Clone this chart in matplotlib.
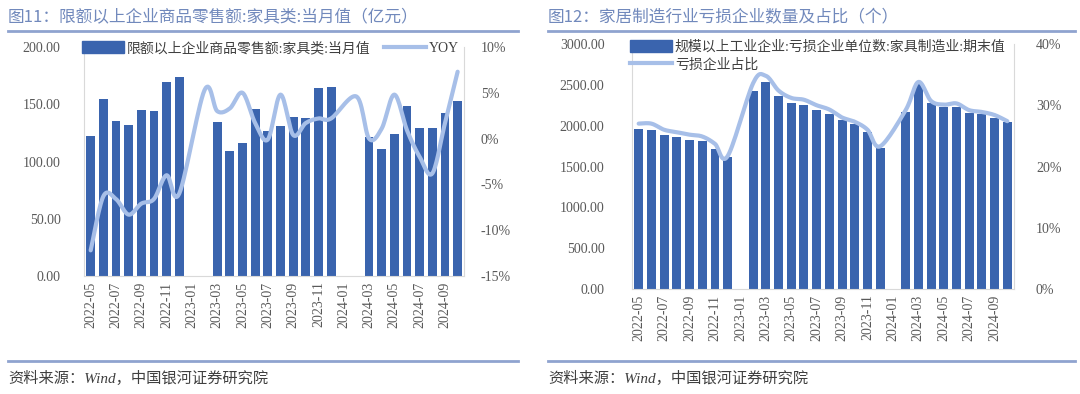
import numpy as np
import matplotlib
matplotlib.use('Agg')
import matplotlib.pyplot as plt
from matplotlib.lines import Line2D
from matplotlib.patches import Patch

nan = np.nan

MONTHS = ['2022-05', '2022-06', '2022-07', '2022-08', '2022-09', '2022-10',
          '2022-11', '2022-12', '2023-01', '2023-02', '2023-03', '2023-04',
          '2023-05', '2023-06', '2023-07', '2023-08', '2023-09', '2023-10',
          '2023-11', '2023-12', '2024-01', '2024-02', '2024-03', '2024-04',
          '2024-05', '2024-06', '2024-07', '2024-08', '2024-09', '2024-10']

# 图11: 限额以上企业商品零售额:家具类:当月值 (亿元) and YOY (%)
RETAIL = [122.3, 154.6, 135.0, 131.9, 145.0, 144.4, 169.4, 174.0, nan, nan,
          134.2, 109.5, 115.9, 145.6, 126.9, 131.0, 138.6, 138.0, 163.9, 165.4,
          nan, nan, 121.7, 110.9, 124.0, 148.5, 129.5, 129.5, 142.6, 152.5]
RETAIL_YOY = [-12.2, -6.3, -6.6, -8.3, -7.1, -6.6, -4.0, -6.0, nan, 5.3,
              3.0, 3.3, 5.0, 1.7, -0.1, 4.8, 0.4, 1.7, 2.2, 2.2,
              nan, 4.6, 0.0, 1.1, 4.8, 0.9, -2.0, -3.8, 1.7, 7.3]

# 图12: 家具制造业亏损企业单位数 (个) and 亏损企业占比 (%)
LOSS_UNITS = [1958, 1950, 1881, 1856, 1824, 1811, 1710, 1620, nan, 2424,
              2538, 2366, 2277, 2256, 2191, 2142, 2069, 2016, 1922, 1730,
              nan, 2171, 2509, 2281, 2224, 2232, 2158, 2138, 2097, 2048]
LOSS_SHARE = [27.0, 27.0, 26.0, 25.6, 25.2, 24.9, 23.7, 21.7, nan, 33.6,
              34.8, 32.4, 31.2, 30.9, 30.0, 29.3, 28.0, 27.3, 26.0, 23.3,
              nan, 29.2, 33.8, 30.7, 30.1, 30.3, 29.2, 28.9, 28.4, 27.4]

BAR_COLOR = '#3a64ae'
LINE_COLOR = '#a7bfe8'
GRID_GRAY = '#d9d9d9'
TICK_GRAY = '#595959'
TITLE_COLOR = '#7189bc'
RULE_COLOR = '#8fa3cf'

plt.rcParams['font.family'] = ['Liberation Serif', 'Noto Sans CJK SC']
plt.rcParams['font.size'] = 10


def smooth(x, y, steps=16):
    # Excel-style smoothed line: cubic Bezier through the points, gaps bridged
    pts = np.array([(a, b) for a, b in zip(x, y) if not np.isnan(b)])
    padded = np.vstack([pts[0], pts, pts[-1]])
    t = np.linspace(0, 1, steps)[:, None]
    out = []
    for i in range(len(pts) - 1):
        p0, p1 = padded[i + 1], padded[i + 2]
        c1 = p0 + (padded[i + 2] - padded[i]) / 6
        c2 = p1 - (padded[i + 3] - padded[i + 1]) / 6
        seg = ((1 - t) ** 3) * p0 + 3 * ((1 - t) ** 2) * t * c1 \
            + 3 * (1 - t) * t ** 2 * c2 + t ** 3 * p1
        out.append(seg if i == 0 else seg[1:])
    out = np.vstack(out)
    return out[:, 0], out[:, 1]


def style_axes(ax, ax2, left_pad, right_pad):
    x = np.arange(len(MONTHS))
    ax.set_xlim(-0.5, len(MONTHS) - 0.5)
    ax.set_xticks(x[::2])
    ax.set_xticklabels(MONTHS[::2], rotation=90)
    for side in ['left', 'bottom', 'right']:
        ax.spines[side].set_color(GRID_GRAY)
    ax.spines['top'].set_visible(False)
    for sp in ax2.spines.values():
        sp.set_visible(False)
    ax.tick_params(axis='both', length=0, labelcolor=TICK_GRAY, labelsize=10)
    ax.tick_params(axis='y', pad=left_pad)
    ax.tick_params(axis='x', pad=4)
    ax2.tick_params(axis='y', length=0, labelcolor=TICK_GRAY, labelsize=10,
                    pad=right_pad)


def panel_frame(fig, x0, x1, title):
    fig.text(x0, 0.955, title, fontsize=12, color=TITLE_COLOR,
             family=['Noto Sans CJK SC'], va='center', ha='left')
    fig.add_artist(Line2D([x0, x1], [0.922, 0.922], color=RULE_COLOR, lw=2))
    fig.add_artist(Line2D([x0, x1], [0.083, 0.083], color=RULE_COLOR, lw=2))
    fig.text(x0, 0.040, '资料来源：Wind，中国银河证券研究院', fontsize=11,
             color='#404040', style='italic', va='center', ha='left')


fig = plt.figure(figsize=(10.8, 3.94), dpi=100)
x = np.arange(len(MONTHS))

# ---- left panel ----
ax = fig.add_axes([0.0781, 0.2995, 0.3515, 0.5812])
ax2 = ax.twinx()
ax.bar(x, RETAIL, width=0.7, color=BAR_COLOR, zorder=2)
sx, sy = smooth(x, RETAIL_YOY)
ax2.plot(sx, sy, color=LINE_COLOR, lw=3, solid_capstyle='round', zorder=3)
ax.set_ylim(0, 200)
ax.set_yticks(np.arange(0, 201, 50))
ax.set_yticklabels([f'{v:.2f}' for v in np.arange(0, 201, 50)])
ax2.set_ylim(-15, 10)
ax2.set_yticks(np.arange(-15, 11, 5))
ax2.set_yticklabels([f'{v}%' for v in range(-15, 11, 5)])
style_axes(ax, ax2, 17, 12)
handles = [Patch(color=BAR_COLOR), Line2D([], [], color=LINE_COLOR, lw=3)]
ax2.legend(handles, ['限额以上企业商品零售额:家具类:当月值', 'YOY'], ncol=2,
           loc='center left', bbox_to_anchor=(-0.005, 0.995), frameon=False,
           handlelength=3.0, handleheight=0.9, handletextpad=0.2,
           columnspacing=1.0, borderaxespad=0, borderpad=0, fontsize=10,
           labelcolor='#404040')
panel_frame(fig, 0.0074, 0.48, '图11：限额以上企业商品零售额:家具类:当月值（亿元）')

# ---- right panel ----
bx = fig.add_axes([0.5855, 0.2665, 0.3531, 0.6218])
bx2 = bx.twinx()
bx.bar(x, LOSS_UNITS, width=0.7, color=BAR_COLOR, zorder=2)
sx, sy = smooth(x, LOSS_SHARE)
bx2.plot(sx, sy, color=LINE_COLOR, lw=3, solid_capstyle='round', zorder=3)
bx.set_ylim(0, 3000)
bx.set_yticks(np.arange(0, 3001, 500))
bx.set_yticklabels([f'{v:.2f}' for v in np.arange(0, 3001, 500)])
bx2.set_ylim(0, 40)
bx2.set_yticks(np.arange(0, 41, 10))
bx2.set_yticklabels([f'{v}%' for v in range(0, 41, 10)])
style_axes(bx, bx2, 20, 16)
handles = [Patch(color=BAR_COLOR), Line2D([], [], color=LINE_COLOR, lw=3)]
bx2.legend(handles, ['规模以上工业企业:亏损企业单位数:家具制造业:期末值', '亏损企业占比'],
           ncol=1, loc='upper left', bbox_to_anchor=(-0.005, 1.015),
           frameon=False, handlelength=3.0, handleheight=0.9,
           handletextpad=0.2, labelspacing=0.3, borderaxespad=0,
           borderpad=0, fontsize=10, labelcolor='#404040')
panel_frame(fig, 0.5074, 0.995, '图12：家居制造行业亏损企业数量及占比（个）')

fig.savefig('out.png', dpi=100)
